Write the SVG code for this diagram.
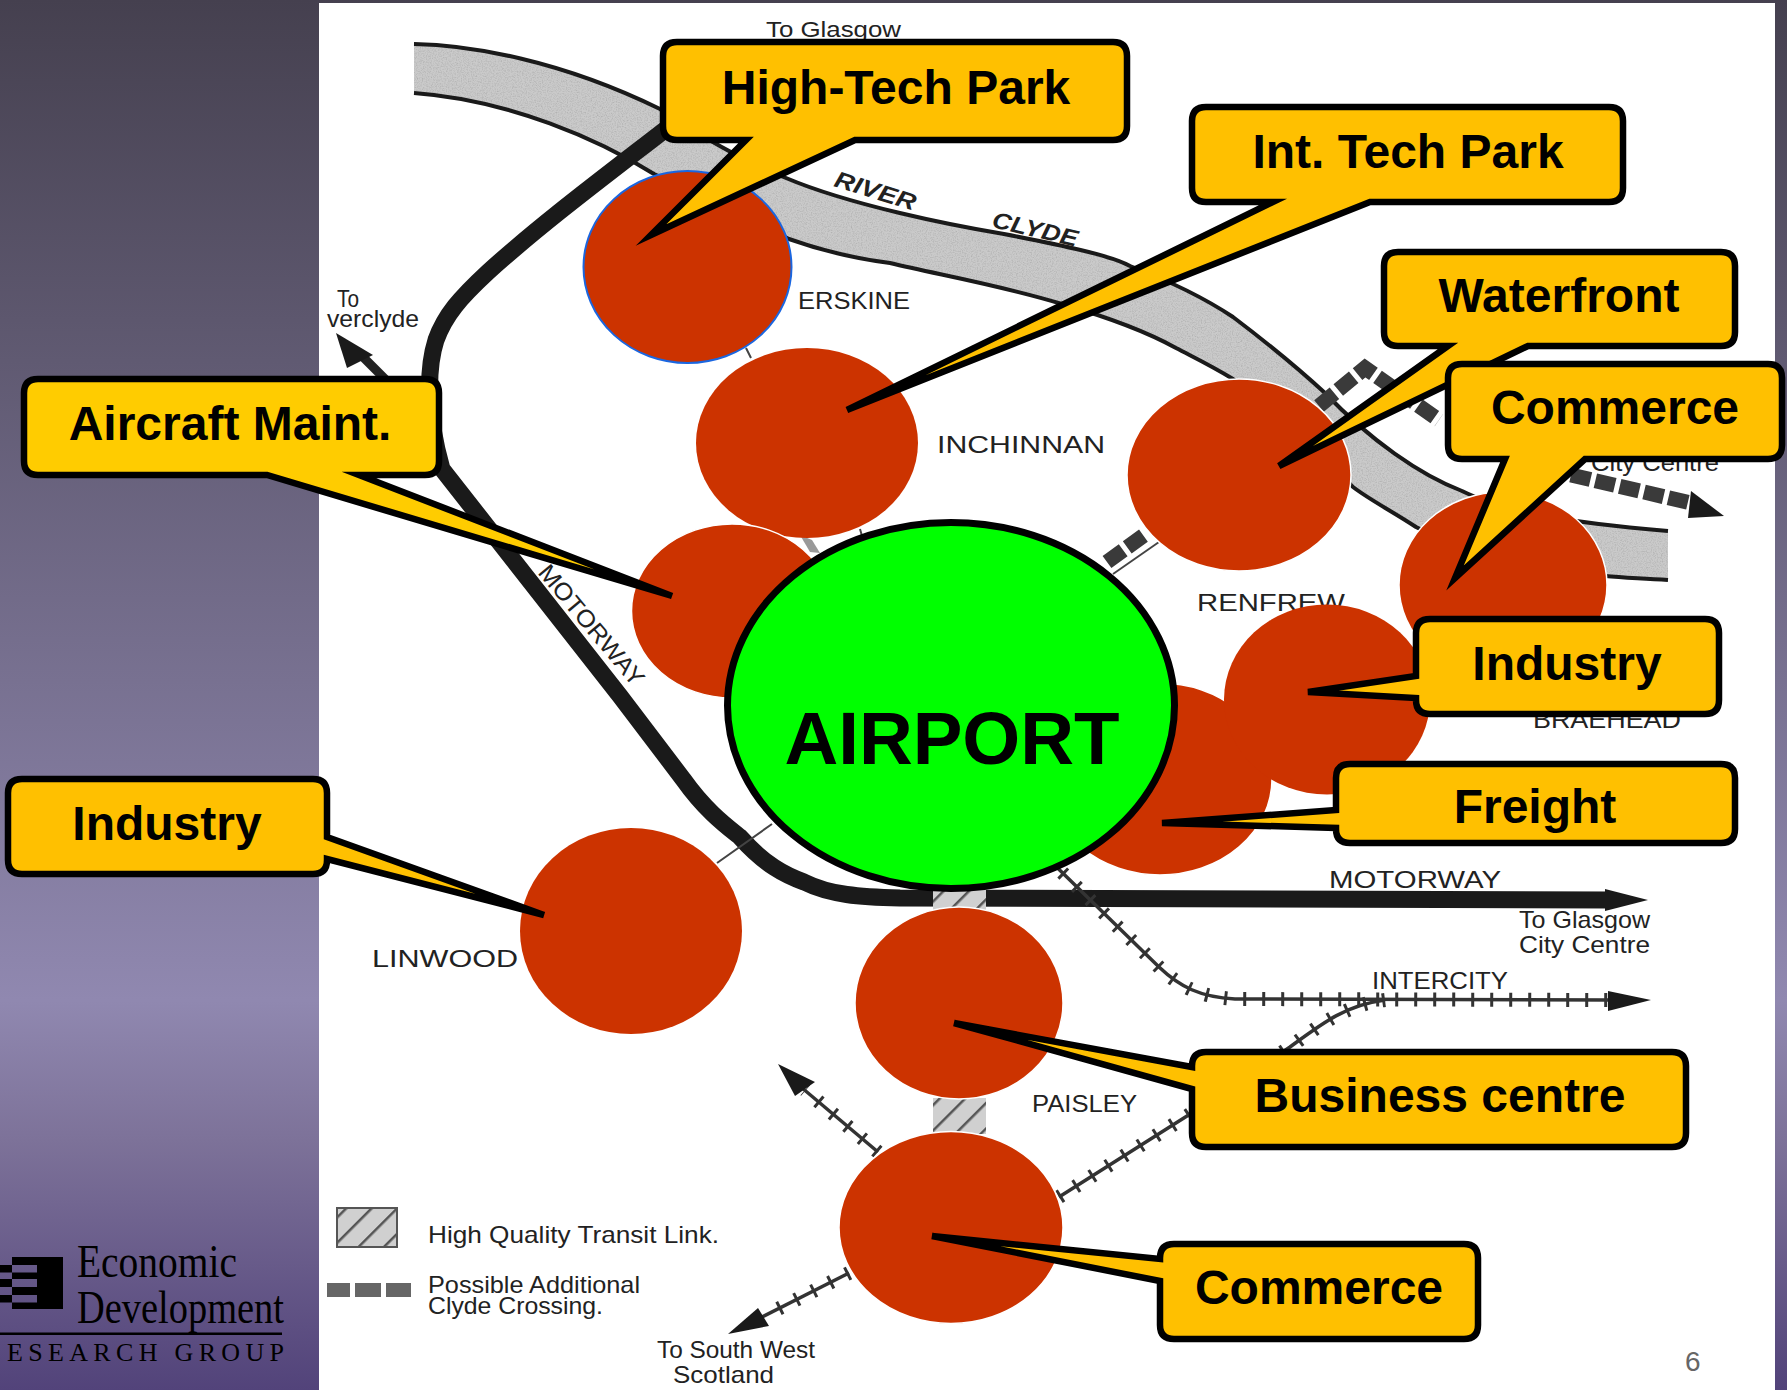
<svg xmlns="http://www.w3.org/2000/svg" width="1787" height="1390" viewBox="0 0 1787 1390">
<style>
.m{font-family:"Liberation Sans",Arial,sans-serif;fill:#222}
.s24{font-size:24px}
.call{stroke:#000;stroke-width:6.5;stroke-linejoin:miter;stroke-miterlimit:8;fill:#ffc000}
.lab{font-family:"Liberation Sans",Arial,sans-serif;font-weight:700;font-size:48px;text-anchor:middle;fill:#000}
.edge{fill:none;stroke:#1a1a1a;stroke-width:4}
.site{fill:#cc3300}
.w{stroke:#fff;stroke-width:1.5}
.rail{fill:none;stroke:#333;stroke-width:3.5}
.tick{fill:none;stroke:#333;stroke-width:14;stroke-dasharray:3 16}
.head{fill:#1a1a1a}
.thin{stroke:#444;stroke-width:2;fill:none}
.dash{fill:none;stroke:#3a3a3a;stroke-width:15;stroke-dasharray:20 5}
.logo{font-family:"Liberation Serif","Times New Roman",serif;fill:#000}
</style>
<defs>
<linearGradient id="bg" x1="0" y1="0" x2="0" y2="1">
<stop offset="0" stop-color="#45404f"/>
<stop offset="0.72" stop-color="#9088b0"/>
<stop offset="0.82" stop-color="#7d7299"/>
<stop offset="1" stop-color="#52437a"/>
</linearGradient>
<pattern id="hatch" width="18" height="18" patternUnits="userSpaceOnUse" patternTransform="rotate(45)">
<rect width="18" height="18" fill="#d0d0d0"/>
<rect width="2.5" height="18" fill="#555"/>
</pattern>
<filter id="grain" x="0" y="0" width="100%" height="100%">
<feTurbulence type="fractalNoise" baseFrequency="0.8" numOctaves="2" seed="4" result="n"/>
<feColorMatrix in="n" type="matrix" values="0 0 0 0 0.3 0 0 0 0 0.3 0 0 0 0 0.3 0 0 0 1.1 -0.45" result="d"/>
<feComposite in="d" in2="SourceAlpha" operator="in" result="c"/>
<feMerge><feMergeNode in="SourceGraphic"/><feMergeNode in="c"/></feMerge>
</filter>
</defs>
<rect width="1787" height="1390" fill="url(#bg)"/>
<rect x="319" y="3" width="1456" height="1387" fill="#fff"/>

<g id="basemap">
<path fill="#cacaca" filter="url(#grain)" d="M414,44C470,45 560,60 660,109C700,135 740,160 786,178C850,205 950,225 1004,234C1060,245 1110,255 1130,266C1180,285 1215,305 1233,317C1270,345 1300,370 1325,393C1370,440 1420,475 1462,491C1500,510 1560,522 1668,531L1668,580C1640,578 1625,578 1605,576C1530,565 1460,550 1416,527C1390,510 1370,500 1353,487C1310,440 1270,410 1233,379C1210,365 1195,358 1176,348C1140,328 1100,315 1062,304C1000,285 940,275 890,263C850,258 820,250 789,239C750,220 700,195 654,174C600,140 510,100 414,93Z"/>
<path class="edge" d="M414,44C470,45 560,60 660,109C700,135 740,160 786,178C850,205 950,225 1004,234C1060,245 1110,255 1130,266C1180,285 1215,305 1233,317C1270,345 1300,370 1325,393C1370,440 1420,475 1462,491C1500,510 1560,522 1668,531"/>
<path class="edge" d="M1668,580C1640,578 1625,578 1605,576C1530,565 1460,550 1416,527C1390,510 1370,500 1353,487C1310,440 1270,410 1233,379C1210,365 1195,358 1176,348C1140,328 1100,315 1062,304C1000,285 940,275 890,263C850,258 820,250 789,239C750,220 700,195 654,174C600,140 510,100 414,93"/>
<text class="m" font-weight="700" font-style="italic" font-size="23" textLength="84" lengthAdjust="spacingAndGlyphs" transform="translate(833,186) rotate(17)">RIVER</text>
<text class="m" font-weight="700" font-style="italic" font-size="23" textLength="87" lengthAdjust="spacingAndGlyphs" transform="translate(991,227) rotate(13)">CLYDE</text>
<path fill="none" stroke="#1a1a1a" stroke-width="17" d="M666,129C600,180 540,225 488,272C460,298 445,315 436,340C428,365 425,410 442,469L620,696L683,779C705,810 725,825 740,837C765,865 785,875 804,882C830,895 860,897 900,898L1610,900"/>
<polygon class="head" points="1605,889 1648,900 1605,911"/>
<path fill="none" stroke="#222" stroke-width="9" d="M358,352L398,392"/>
<polygon class="head" points="336,333 373,355 347,368"/>
<path class="rail" d="M1035,846L1159,967C1180,987 1200,997 1235,999L1610,1000"/>
<path class="tick" d="M1035,846L1159,967C1180,987 1200,997 1235,999L1610,1000"/>
<polygon class="head" points="1608,991 1651,1000 1608,1011"/>
<path class="rail" d="M1059,1197L1187,1116L1290,1047C1320,1025 1345,1005 1385,1000"/>
<path class="tick" d="M1059,1197L1187,1116L1290,1047C1320,1025 1345,1005 1385,1000"/>
<path class="rail" d="M878,1152L795,1082"/>
<path class="tick" d="M878,1152L805,1090"/>
<polygon class="head" points="778,1064 815,1082 795,1096"/>
<path class="rail" d="M849,1273L758,1319"/>
<path class="tick" d="M849,1273L770,1313"/>
<polygon class="head" points="728,1334 758,1308 769,1326"/>
<path class="dash" d="M1319,406L1365,368L1439,420"/>
<path class="dash" d="M1571,475L1691,503"/>
<polygon class="head" points="1724,516 1691,491 1688,518"/>
<path class="dash" d="M1107,562L1147,533"/>
<path class="thin" d="M1113,574L1159,542"/>
<path class="thin" d="M746,348L751,358M860,529L862,536M717,863L772,824"/>
<polygon fill="#999" points="800,535 812,540 820,553 810,552"/>
<rect x="933" y="885" width="53" height="25" fill="url(#hatch)"/>
<rect x="933" y="1098" width="53" height="36" fill="url(#hatch)"/>
<rect x="337" y="1208" width="60" height="39" fill="url(#hatch)" stroke="#555" stroke-width="2"/>
<g fill="#666"><rect x="327" y="1283" width="23" height="14"/><rect x="355" y="1283" width="26" height="14"/><rect x="386" y="1283" width="25" height="14"/></g>
<g class="m s24">
<text x="766" y="37" font-size="22" textLength="135" lengthAdjust="spacingAndGlyphs">To Glasgow</text>
<text x="798" y="309" textLength="112" lengthAdjust="spacingAndGlyphs">ERSKINE</text>
<text x="937" y="453" textLength="168" lengthAdjust="spacingAndGlyphs">INCHINNAN</text>
<text x="1197" y="611" textLength="148" lengthAdjust="spacingAndGlyphs">RENFREW</text>
<text x="1533" y="728" textLength="148" lengthAdjust="spacingAndGlyphs">BRAEHEAD</text>
<text x="1591" y="471" textLength="128" lengthAdjust="spacingAndGlyphs">City Centre</text>
<text x="337" y="307" textLength="22" lengthAdjust="spacingAndGlyphs">To</text>
<text x="327" y="327" textLength="92" lengthAdjust="spacingAndGlyphs">verclyde</text>
<text textLength="150" lengthAdjust="spacingAndGlyphs" transform="translate(537,573) rotate(50)">MOTORWAY</text>
<text x="372" y="967" textLength="146" lengthAdjust="spacingAndGlyphs">LINWOOD</text>
<text x="1329" y="888" textLength="172" lengthAdjust="spacingAndGlyphs">MOTORWAY</text>
<text x="1519" y="928" textLength="131" lengthAdjust="spacingAndGlyphs">To Glasgow</text>
<text x="1519" y="953" textLength="131" lengthAdjust="spacingAndGlyphs">City Centre</text>
<text x="1372" y="989" textLength="136" lengthAdjust="spacingAndGlyphs">INTERCITY</text>
<text x="1032" y="1112" textLength="105" lengthAdjust="spacingAndGlyphs">PAISLEY</text>
<text x="428" y="1243" textLength="291" lengthAdjust="spacingAndGlyphs">High Quality Transit Link.</text>
<text x="428" y="1293" textLength="212" lengthAdjust="spacingAndGlyphs">Possible Additional</text>
<text x="428" y="1314" textLength="175" lengthAdjust="spacingAndGlyphs">Clyde Crossing.</text>
<text x="657" y="1358" textLength="158" lengthAdjust="spacingAndGlyphs">To South West</text>
<text x="673" y="1383" textLength="101" lengthAdjust="spacingAndGlyphs">Scotland</text>
<text x="1685" y="1371" font-size="28" fill="#666">6</text>
</g>
</g>

<g id="logo">
<path fill="#000" d="M37,1257H63V1309H37ZM12,1257H37V1265H12ZM12,1272.500H37V1279H12ZM12,1287H37V1295H12ZM12,1302.500H37V1309H12ZM0,1265H12V1272.500H0ZM0,1279H12V1287H0ZM0,1295H12V1302.500H0Z"/>
<text class="logo" x="77" y="1277" font-size="46" textLength="160" lengthAdjust="spacingAndGlyphs">Economic</text>
<text class="logo" x="77" y="1323" font-size="46" textLength="207" lengthAdjust="spacingAndGlyphs">Development</text>
<rect x="0" y="1332.500" width="282" height="2.500" fill="#000"/>
<text class="logo" x="7" y="1361" font-size="26" textLength="277">ESEARCH GROUP</text>
</g>

<g id="sites">
<ellipse id="site-hightech" class="site" cx="687.5" cy="267" rx="104" ry="96" stroke="#1a66e0" stroke-width="2"/>
<ellipse id="site-inttech" class="site" cx="807" cy="443" rx="111" ry="95"/>
<ellipse id="site-aircraft" class="site w" cx="732" cy="611" rx="100.5" ry="87"/>
<ellipse id="site-waterfront" class="site w" cx="1239" cy="475" rx="112" ry="96"/>
<ellipse id="site-commerce-n" class="site w" cx="1503" cy="585" rx="104" ry="93"/>
<ellipse id="site-freight" class="site w" cx="1160" cy="779" rx="112" ry="96"/>
<ellipse id="site-industry-e" class="site" cx="1327" cy="699.5" rx="103" ry="95"/>
<ellipse id="site-linwood" class="site" cx="631" cy="931" rx="111" ry="103"/>
<ellipse id="site-business" class="site w" cx="959" cy="1003" rx="104" ry="96"/>
<ellipse id="site-commerce-s" class="site w" cx="951" cy="1227.5" rx="112" ry="96"/>
</g>

<g id="airport">
<ellipse cx="951" cy="705.500" rx="223.500" ry="183" fill="#00ff00" stroke="#000" stroke-width="7"/>
<text x="952" y="763.500" font-family="'Liberation Sans',Arial,sans-serif" font-weight="700" font-size="74.5" text-anchor="middle" fill="#000">AIRPORT</text>
</g>

<g id="callout-hightech">
<path class="call" d="M677,42H1113Q1127,42 1127,56V126Q1127,140 1113,140H855L651,235L746,140H677Q663,140 663,126V56Q663,42 677,42Z"/>
<text class="lab" x="896" y="104">High-Tech Park</text>
</g>
<g id="callout-inttech">
<path class="call" d="M1206,107H1609Q1623,107 1623,121V188Q1623,202 1609,202H1370L847,410L1273,202H1206Q1192,202 1192,188V121Q1192,107 1206,107Z"/>
<text class="lab" x="1408" y="168">Int. Tech Park</text>
</g>
<g id="callout-waterfront">
<path class="call" d="M1398,252H1721Q1735,252 1735,266V332Q1735,346 1721,346H1528L1279,466L1448,346H1398Q1384,346 1384,332V266Q1384,252 1398,252Z"/>
<text class="lab" x="1559" y="312">Waterfront</text>
</g>
<g id="callout-commerce-n">
<path class="call" d="M1462,364H1768Q1782,364 1782,378V445Q1782,459 1768,459H1585L1455,578L1505,459H1462Q1448,459 1448,445V378Q1448,364 1462,364Z"/>
<text class="lab" x="1615" y="424">Commerce</text>
</g>
<g id="callout-industry-e">
<path class="call" d="M1430,619H1705Q1719,619 1719,633V700Q1719,714 1705,714H1430Q1416,714 1416,700V698L1308,692L1416,676V633Q1416,619 1430,619Z"/>
<text class="lab" x="1567" y="680">Industry</text>
</g>
<g id="callout-freight">
<path class="call" d="M1350,764H1721Q1735,764 1735,778V829Q1735,843 1721,843H1350Q1336,843 1336,829V828L1162,823L1336,810V778Q1336,764 1350,764Z"/>
<text class="lab" x="1535" y="823">Freight</text>
</g>
<g id="callout-aircraft">
<path style="fill:#ffcc00" class="call" d="M38,379H425Q439,379 439,393V461Q439,475 425,475H359L672,596L267,475H38Q24,475 24,461V393Q24,379 38,379Z"/>
<text class="lab" x="230" y="440">Aircraft Maint.</text>
</g>
<g id="callout-industry-w">
<path class="call" d="M22,779H313Q327,779 327,793V837L544,915L327,859V860Q327,874 313,874H22Q8,874 8,860V793Q8,779 22,779Z"/>
<text class="lab" x="167" y="840">Industry</text>
</g>
<g id="callout-business">
<path class="call" d="M1206,1052H1672Q1686,1052 1686,1066V1133Q1686,1147 1672,1147H1206Q1192,1147 1192,1133V1089L954,1023L1192,1067V1066Q1192,1052 1206,1052Z"/>
<text class="lab" x="1440" y="1112">Business centre</text>
</g>
<g id="callout-commerce-s">
<path class="call" d="M1174,1244H1464Q1478,1244 1478,1258V1325Q1478,1339 1464,1339H1174Q1160,1339 1160,1325V1281L932,1236L1160,1259V1258Q1160,1244 1174,1244Z"/>
<text class="lab" x="1319" y="1304">Commerce</text>
</g>
</svg>
